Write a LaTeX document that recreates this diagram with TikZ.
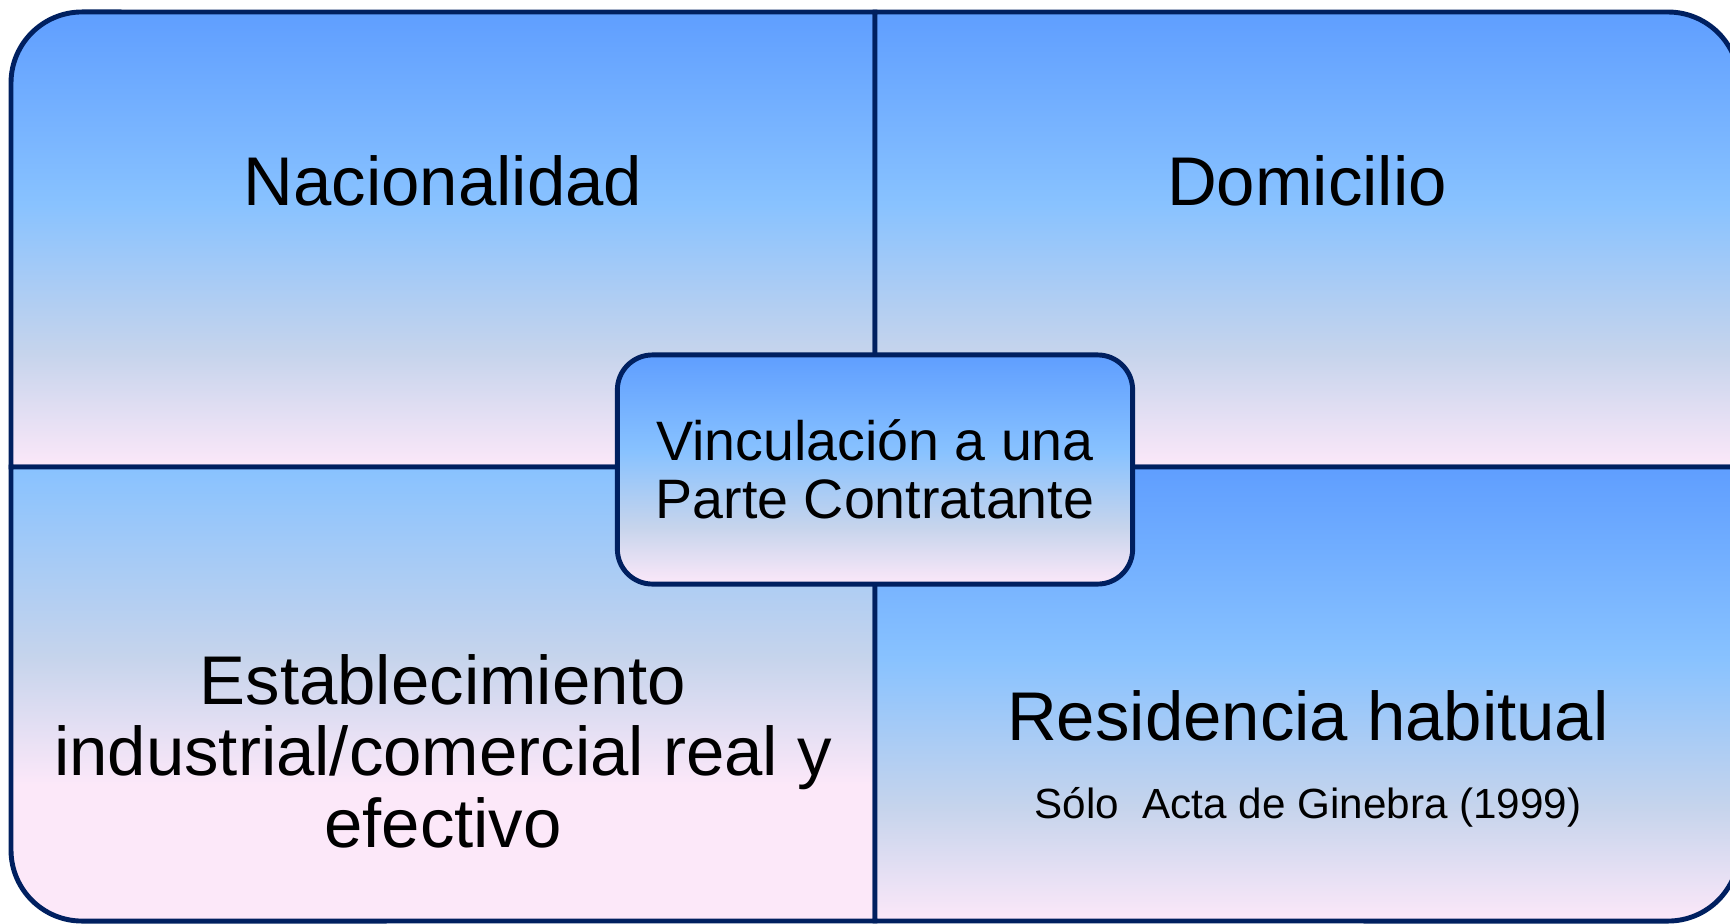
\documentclass[tikz,border=0pt]{standalone}
\usepackage{fontspec}
\setmainfont{Liberation Sans}
\usetikzlibrary{positioning}
\definecolor{qblue}{RGB}{95,158,255}
\definecolor{qlight}{RGB}{136,194,255}
\definecolor{qgrey}{RGB}{198,212,236}
\definecolor{qpink}{RGB}{252,232,249}
\definecolor{navyline}{RGB}{0,32,96}
% blue at the top, pink at the bottom
\pgfdeclareverticalshading{quadfade}{100bp}{color(0bp)=(qpink); color(25bp)=(qpink); color(37.5bp)=(qgrey); color(54bp)=(qlight); color(75bp)=(qblue); color(100bp)=(qblue)}
% lower left cell starts lighter
\pgfdeclareverticalshading{quadfadelow}{100bp}{color(0bp)=(qpink); color(40bp)=(qpink); color(54bp)=(qgrey); color(75bp)=(qlight); color(100bp)=(qlight)}

\begin{document}
\begin{tikzpicture}[
    x=0.01cm, y=0.01cm,
    cell/.style={draw=navyline, line width=1.4pt, shade, shading=quadfade},
    hub/.style={draw=navyline, line width=1.4pt, shade, shading=quadfade, rounded corners=0.35cm,
                minimum width=5.15cm, minimum height=2.29cm, inner sep=0pt, align=center,
                font=\fontsize{15.8}{16.5}\selectfont},
    biglabel/.style={font=\fontsize{19.6}{20.3}\selectfont, align=center, inner sep=0pt},
    note/.style={font=\fontsize{12}{14}\selectfont, inner sep=0pt}
]
    \useasboundingbox (0,0) rectangle (1730,923);

    % Four cells of the matrix, outer corner rounded
    \path[cell] (875,456) -- (11,456) -- (11,840) arc[start angle=180, end angle=90, radius=0.71cm] -- (875,911) -- cycle;
    \path[cell] (875,456) -- (875,911) -- (1668,911) arc[start angle=90, end angle=0, radius=0.71cm] -- (1739,456) -- cycle;
    \path[cell, shading=quadfadelow] (875,456) -- (11,456) -- (11,73) arc[start angle=180, end angle=270, radius=0.71cm] -- (875,2) -- cycle;
    \path[cell] (875,456) -- (1739,456) -- (1739,73) arc[start angle=0, end angle=-90, radius=0.71cm] -- (875,2) -- cycle;

    % Cell labels
    \node[biglabel, anchor=base] (nac) at (443,718) {Nacionalidad};
    \node[biglabel, anchor=base] (dom) at (1307,718) {Domicilio};
    \node[biglabel] (estab) at (443,172) {Establecimiento\\industrial/comercial real y\\efectivo};
    \node[biglabel, anchor=base] (resid) at (1308,183) {Residencia habitual};
    \node[note, anchor=base] (ginebra) at ([yshift=-0.78cm]resid.base) {Sólo\ \ Acta de Ginebra (1999)};

    % Centre box
    \node[hub] (vinc) at (875,453.5) {Vinculación a una\\Parte Contratante};

\end{tikzpicture}
\end{document}
